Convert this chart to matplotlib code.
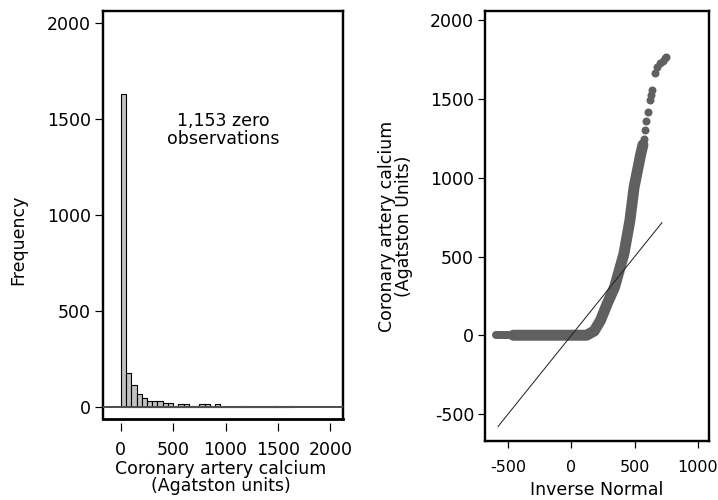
import matplotlib
matplotlib.use("Agg")
import matplotlib.pyplot as plt

plt.rcParams['font.family'] = ['DejaVu Sans']

# Histogram of coronary artery calcium (bins of 50 Agatston units starting at 0)
bin_width = 50
hist_counts = [1630, 174, 113, 65, 44, 31, 31, 31, 21, 21,
               4, 12, 12, 3, 3, 12, 12, 3, 14, 0,
               0, 0, 0, 2, 0, 0, 0, 0, 0, 2,
               0, 0, 2]
hist_ticks = [0, 500, 1000, 1500, 2000]
freq_ticks = [0, 500, 1000, 1500, 2000]

# Normal quantile plot: dense run of points (inverse normal, observed value)
qq_low_x = [-595, -460]
qq_low_y = [0, 0]
qq_band_x = [-460, 120, 180, 230, 283, 341, 415, 462, 495, 548, 565]
qq_band_y = [0, 0, 27, 95, 201, 306, 518, 729, 940, 1152, 1210]
# sparse points in the upper tail
qq_tail_x = [574, 582, 593, 606, 622, 630, 640, 661, 675, 700, 720, 740, 751]
qq_tail_y = [1247, 1304, 1363, 1416, 1495, 1525, 1555, 1666, 1706, 1730, 1744, 1760, 1768]
# reference line y = x over the range of the inverse normal
ref_x = [-580, 715]
qq_xticks = [-500, 0, 500, 1000]
qq_yticks = [-500, 0, 500, 1000, 1500, 2000]

W, H = 718, 500
fig = plt.figure(figsize=(W / 100, H / 100), dpi=100)
FS = 12.5
px = 72 / 100  # points per pixel

# ---- left panel: histogram ----
ax1 = fig.add_axes([103 / W, 1 - 419 / H, (343 - 103) / W, (419 - 11) / H])
lefts = [i * bin_width for i in range(len(hist_counts))]
ax1.bar(lefts, hist_counts, width=bin_width, align='edge',
        color='#c0c0c0', edgecolor='black', linewidth=0.8, zorder=2)
ax1.axhline(0, color='#505050', lw=2 * px, zorder=3)
ax1.set_xlim(-170, 2120)
ax1.set_ylim(-64, 2060)
ax1.set_xticks(hist_ticks)
ax1.set_xticklabels([str(t) for t in hist_ticks])
ax1.set_yticks(freq_ticks)
ax1.set_yticklabels([str(t) for t in freq_ticks])
for s in ax1.spines.values():
    s.set_linewidth(2.4 * px)
ax1.spines['bottom'].set_position(('outward', 4 * px))
ax1.spines['bottom'].set_visible(False)
ax1.plot([0, 1], [0, 0], transform=ax1.transAxes, color='black',
         lw=2.8 * px, clip_on=False, zorder=5, solid_capstyle='projecting')
ax1.tick_params(axis='both', direction='out', length=8 * px, width=1.2 * px,
                labelsize=FS, colors='black')
ax1.tick_params(axis='x', pad=10 * px)
ax1.tick_params(axis='y', pad=4 * px)
ax1.set_ylabel('Frequency', fontsize=FS)
ax1.yaxis.set_label_coords(-0.317, 0.44)
ax1.set_xlabel('Coronary artery calcium\n(Agatston units)', fontsize=FS,
               linespacing=0.95)
ax1.xaxis.set_label_coords(0.49, -0.1)
ax1.text(975, 1441, '1,153 zero\nobservations', ha='center', va='center',
         fontsize=FS, linespacing=0.95)

# ---- right panel: normal quantile plot ----
ax2 = fig.add_axes([485 / W, 1 - 441 / H, (709 - 485) / W, (441 - 11) / H])
gray = '#606060'
ax2.plot(qq_low_x, qq_low_y, color=gray, lw=8 * px, solid_capstyle='round', zorder=2)
ax2.plot(qq_band_x, qq_band_y, color=gray, lw=11 * px, solid_capstyle='round',
         solid_joinstyle='round', zorder=2)
ax2.plot(qq_tail_x, qq_tail_y, 'o', color=gray, ms=8 * px, mew=0, zorder=2)
ax2.plot(ref_x, ref_x, color='#202020', lw=1.0 * px, zorder=3)
ax2.set_xlim(-683, 1087)
ax2.set_ylim(-672, 2060)
ax2.set_xticks(qq_xticks)
ax2.set_xticklabels([str(t) for t in qq_xticks])
ax2.set_yticks(qq_yticks)
ax2.set_yticklabels([str(t) for t in qq_yticks])
for s in ax2.spines.values():
    s.set_linewidth(2.4 * px)
ax2.tick_params(axis='both', direction='out', length=7 * px, width=1.2 * px,
                labelsize=FS, colors='black')
ax2.tick_params(axis='x', pad=12 * px, labelsize=11.5)
ax2.tick_params(axis='y', pad=4 * px)
ax2.set_xlabel('Inverse Normal', fontsize=FS)
ax2.xaxis.set_label_coords(0.5, -0.094)
ax2.set_ylabel('Coronary artery calcium\n(Agatston Units)', fontsize=FS,
               linespacing=0.95)
ax2.yaxis.set_label_coords(-0.321, 0.5)

fig.savefig('out.png', dpi=100)
